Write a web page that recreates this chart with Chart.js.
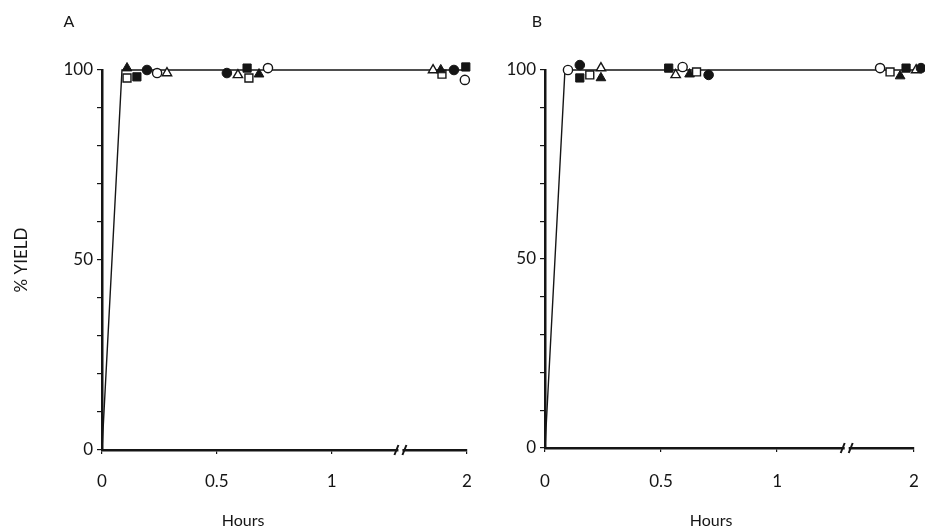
<!DOCTYPE html>
<html><head><meta charset="utf-8">
<script src="https://cdn.jsdelivr.net/npm/chart.js@4.4.1/dist/chart.umd.min.js"></script>
<style>
html,body{margin:0;padding:0;background:#fff;}
#wrap{position:relative;width:925px;height:529px;overflow:hidden;background:#fff;}
.box{position:absolute;top:0;}
</style></head><body>
<div id="wrap">
  <div class="box" style="left:0;width:480px;height:529px"><canvas id="ca" width="480" height="529"></canvas></div>
  <div class="box" style="left:480px;width:445px;height:529px"><canvas id="cb" width="445" height="529"></canvas></div>
</div>
<script>
// ---------- text ----------
const panelLabels = ['A', 'B'];
const xTitle = 'Hours';
const yTitle = '% YIELD';
const xTickHours = [0, 0.5, 1, 2];
const xTickLabels = ['0', '0.5', '1', '2'];
const yTickStep = 10;
const yLabelValues = [0, 50, 100];

// ---------- axis break (hours after the break are compressed) ----------
const BREAK_AT = 1.30, RESUME_AT = 1.5, END_AT = 2, END_POS = 1.59;
function toAxis(h) {
  return h <= BREAK_AT ? h : BREAK_AT + (h - RESUME_AT) * (END_POS - BREAK_AT) / (END_AT - RESUME_AT);
}

// ---------- panel A data (hours, % yield) ----------
const A_curveH = [0, 0.087, 2.0];
const A_curveY = [0, 100, 100];
const A_filledTriangleH = [0.109, 0.684, 1.803];
const A_filledTriangleY = [100.5, 98.9, 100];
const A_openSquareH = [0.109, 0.640, 1.812];
const A_openSquareY = [97.9, 97.9, 98.9];
const A_filledSquareH = [0.152, 0.632, 1.991];
const A_filledSquareY = [98.2, 100.5, 100.8];
const A_filledCircleH = [0.196, 0.544, 1.902];
const A_filledCircleY = [100, 99.2, 100];
const A_openCircleH = [0.240, 0.723, 1.984];
const A_openCircleY = [99.2, 100.5, 97.4];
const A_openTriangleH = [0.283, 0.592, 1.745];
const A_openTriangleY = [99.2, 98.7, 100];

// ---------- panel B data (hours, % yield) ----------
const B_curveH = [0, 0.086, 2.06];
const B_curveY = [0, 100, 100];
const B_openCircleH = [0.099, 0.593, 1.748];
const B_openCircleY = [100, 100.8, 100.5];
const B_filledCircleH = [0.150, 0.705, 2.052];
const B_filledCircleY = [101.3, 98.7, 100.5];
const B_filledSquareH = [0.150, 0.533, 1.941];
const B_filledSquareY = [97.9, 100.5, 100.5];
const B_openSquareH = [0.193, 0.653, 1.822];
const B_openSquareY = [98.7, 99.5, 99.5];
const B_openTriangleH = [0.241, 0.563, 2.016];
const B_openTriangleY = [100.5, 98.7, 100];
const B_filledTriangleH = [0.241, 0.623, 1.897];
const B_filledTriangleY = [97.9, 98.9, 98.4];

// ---------- styles ----------
const INK = '#151515';
const FONT = 'Lato, "DejaVu Sans", sans-serif';
const markerStyles = {
  filledCircle:   { pointStyle: 'circle',   open: false, r: 4.8 },
  openCircle:     { pointStyle: 'circle',   open: true,  r: 4.6 },
  filledSquare:   { pointStyle: 'rect',     open: false, r: 5.8 },
  openSquare:     { pointStyle: 'rect',     open: true,  r: 5.6 },
  filledTriangle: { pointStyle: 'triangle', open: false, r: 5.6 },
  openTriangle:   { pointStyle: 'triangle', open: true,  r: 5.4 }
};

function pts(hs, ys) { return hs.map((h, i) => ({ x: toAxis(h), y: ys[i] })); }

function markerDataset(kind, hs, ys) {
  const s = markerStyles[kind];
  return {
    label: kind, data: pts(hs, ys), showLine: false, clip: false, order: 1,
    pointStyle: s.pointStyle, pointRadius: s.r, pointHoverRadius: s.r + 4,
    backgroundColor: s.open ? '#ffffff' : INK, borderColor: INK,
    borderWidth: s.open ? 1.4 : 1
  };
}
function curveDataset(hs, ys) {
  return { label: 'curve', data: pts(hs, ys), showLine: true, pointRadius: 0, clip: false,
           borderColor: INK, borderWidth: 1.4, order: 10, tension: 0 };
}

const decorPlugin = {
  id: 'decor',
  afterDraw(chart) {
    const o = chart.options.plugins.decor;
    const ctx = chart.ctx, xs = chart.scales.x, area = chart.chartArea;
    ctx.save();
    // axis break marks
    const bx = xs.getPixelForValue(BREAK_AT), y0 = area.bottom;
    ctx.fillStyle = '#fff';
    ctx.fillRect(bx - 2, y0 - 3, 4, 6);
    ctx.strokeStyle = INK; ctx.lineWidth = 2;
    ctx.beginPath();
    ctx.moveTo(bx - 6, y0 + 5); ctx.lineTo(bx - 2, y0 - 5);
    ctx.moveTo(bx + 2, y0 + 5); ctx.lineTo(bx + 6, y0 - 5);
    ctx.stroke();
    // texts
    ctx.fillStyle = INK; ctx.textAlign = 'center'; ctx.textBaseline = 'middle';
    ctx.font = '16px ' + FONT;
    ctx.fillText(o.panel, area.left + o.panelDX, 22);
    ctx.fillText(xTitle, area.left + o.titleDX, 521);
    ctx.restore();
  }
};

function makeChart(id, panel, datasets, p) {
  return new Chart(document.getElementById(id), {
    type: 'scatter',
    data: { datasets },
    options: {
      responsive: false, animation: false, devicePixelRatio: 1, events: [],
      layout: { padding: { top: 70, right: p.padRight, left: 0, bottom: 0 } },
      plugins: { legend: { display: false }, tooltip: { enabled: false },
                 decor: { panel, panelDX: p.panelDX, titleDX: p.titleDX } },
      scales: {
        x: {
          type: 'linear', min: 0, max: END_POS,
          afterFit(s) { s.height = p.xH; s.paddingLeft = 0; s.paddingRight = 0; },
          afterBuildTicks(s) { s.ticks = xTickHours.map(h => ({ value: toAxis(h) })); },
          ticks: { callback: (v, i) => xTickLabels[i], color: INK, padding: p.xPad,
                   maxRotation: 0, autoSkip: false, font: { family: FONT, size: 17 } },
          grid: { drawOnChartArea: false, tickLength: 4, color: INK, lineWidth: 1.2 },
          border: { color: INK, width: 2.5 }
        },
        y: {
          type: 'linear', min: 0, max: 100,
          afterFit(s) { s.width = p.yW; s.paddingTop = 0; s.paddingBottom = 0; },
          ticks: { stepSize: yTickStep, color: INK, padding: 4, autoSkip: false,
                   callback: v => yLabelValues.includes(v) ? String(v) : '',
                   font: { family: FONT, size: 17 } },
          grid: { drawOnChartArea: false, tickLength: 5, color: INK, lineWidth: 1.2 },
          border: { color: INK, width: 2.5 },
          title: { display: p.showYTitle, text: yTitle, color: INK,
                   font: { family: FONT, size: 17 }, padding: { top: 11, bottom: 0 } }
        }
      }
    },
    plugins: [decorPlugin]
  });
}

makeChart('ca', panelLabels[0], [
  curveDataset(A_curveH, A_curveY),
  markerDataset('filledTriangle', A_filledTriangleH, A_filledTriangleY),
  markerDataset('openSquare', A_openSquareH, A_openSquareY),
  markerDataset('filledSquare', A_filledSquareH, A_filledSquareY),
  markerDataset('filledCircle', A_filledCircleH, A_filledCircleY),
  markerDataset('openCircle', A_openCircleH, A_openCircleY),
  markerDataset('openTriangle', A_openTriangleH, A_openTriangleY)
], { padRight: 13, yW: 102, xH: 79, xPad: 17, showYTitle: true, panelDX: -33, titleDX: 141 });

makeChart('cb', panelLabels[1], [
  curveDataset(B_curveH, B_curveY),
  markerDataset('openCircle', B_openCircleH, B_openCircleY),
  markerDataset('filledCircle', B_filledCircleH, B_filledCircleY),
  markerDataset('filledSquare', B_filledSquareH, B_filledSquareY),
  markerDataset('openSquare', B_openSquareH, B_openSquareY),
  markerDataset('openTriangle', B_openTriangleH, B_openTriangleY),
  markerDataset('filledTriangle', B_filledTriangleH, B_filledTriangleY)
], { padRight: 11, yW: 65, xH: 81, xPad: 19, showYTitle: false, panelDX: -8, titleDX: 166 });
</script>
</body></html>
